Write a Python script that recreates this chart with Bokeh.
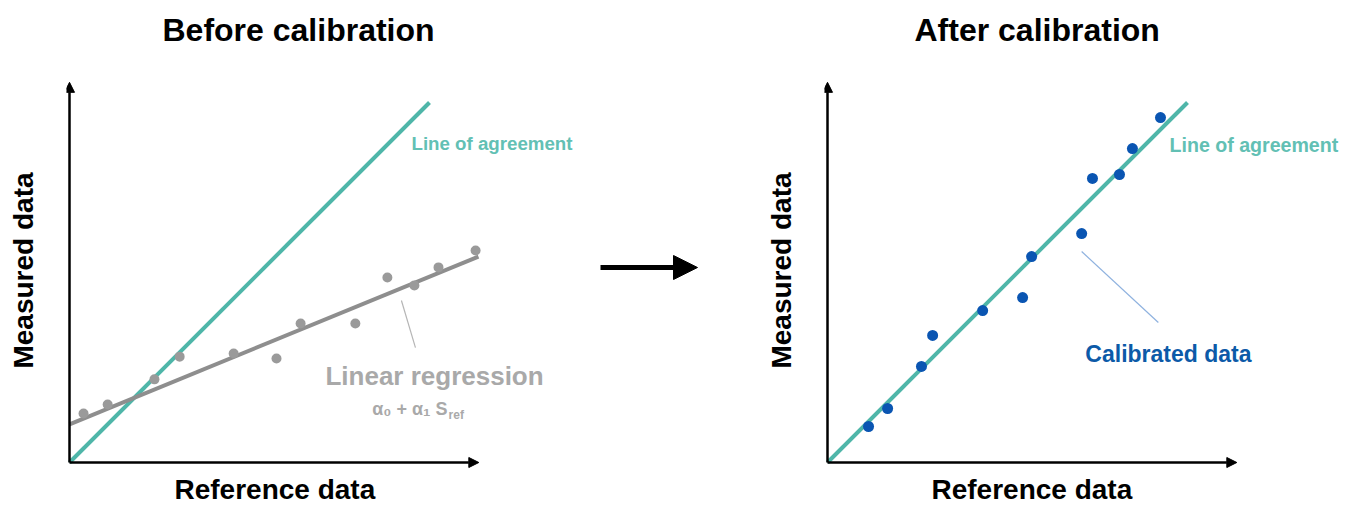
from bokeh.plotting import figure
from bokeh.layouts import row, column
from bokeh.models import Range1d, Arrow, NormalHead, Label, FixedTicker, Title
from bokeh.embed import file_html
from bokeh.resources import INLINE

# ---------------- data (arbitrary units, same scale on both axes) ----------------
ref_before = [0.39, 1.06, 2.36, 3.06, 4.56, 5.75, 6.42, 7.94, 8.83, 9.58, 10.25, 11.28]
meas_before = [1.36, 1.61, 2.31, 2.94, 3.03, 2.89, 3.86, 3.86, 5.14, 4.92, 5.42, 5.89]
ref_after = [1.14, 1.67, 2.61, 2.92, 4.31, 5.42, 5.67, 7.06, 7.36, 8.11, 8.47, 9.25]
meas_after = [1.00, 1.50, 2.67, 3.53, 4.22, 4.58, 5.72, 6.36, 7.89, 8.00, 8.72, 9.58]
alpha0 = 1.06          # regression intercept
alpha1 = 0.41          # regression slope
reg_x = [0.0, 11.36]   # extent of regression line
agree_x = [0.0, 10.0]  # extent of the line of agreement
axis_x_end = 11.37
axis_y_end = 10.56

# ---------------- style ----------------
TEAL = "#4fb6a9"
TEAL_TEXT = "#62c0b4"
GRAY_PT = "#9a9a9a"
GRAY_LINE = "#8e8e8e"
GRAY_TEXT = "#a9a9a9"
BLUE = "#0a55b2"
BLUE_TEXT = "#0c5aa8"
BLUE_PTR = "#8fb2df"
FONT = "Liberation Sans"
PX = 36.0       # pixels per data unit
TH = 60         # height of the title strip
H = 448         # height of the plot figures
MT = 11         # top border of plot figures
MB = 39         # bottom border (axis label)
PAD = 3         # origin offset from frame left
ORIGIN_FROM_TOP = 402  # origin y inside the plot figure


def title_strip(text, W, ML, MR, offset):
    t = figure(width=W, height=TH, output_backend="svg", toolbar_location=None,
               x_axis_type=None, y_axis_type=None,
               min_border_left=ML, min_border_right=MR, min_border_top=0, min_border_bottom=0)
    t.title = Title(text=text, align="left", offset=offset,
                    text_font=FONT, text_font_size="32px",
                    text_font_style="bold", text_color="black", standoff=18)
    t.grid.visible = False
    t.outline_line_color = None
    t.border_fill_color = "white"
    return t


def panel(W, ML, MR, xlabel_offset):
    frame_w = W - ML - MR
    frame_bottom = H - MB
    pad_b = frame_bottom - ORIGIN_FROM_TOP
    p = figure(width=W, height=H, output_backend="svg", toolbar_location=None,
               x_range=Range1d(-PAD / PX, (frame_w - PAD) / PX),
               y_range=Range1d(-pad_b / PX, (ORIGIN_FROM_TOP - MT) / PX),
               min_border_left=ML, min_border_right=MR,
               min_border_top=MT, min_border_bottom=MB)
    p.grid.visible = False
    p.outline_line_color = None
    p.background_fill_color = "white"
    p.border_fill_color = "white"
    for ax in (p.xaxis[0], p.yaxis[0]):
        ax.ticker = FixedTicker(ticks=[])
        ax.axis_line_color = None
        ax.major_tick_line_color = None
        ax.minor_tick_line_color = None
        ax.major_tick_out = 0
        ax.minor_tick_out = 0
        ax.major_label_standoff = 0
        ax.axis_label_text_font = FONT
        ax.axis_label_text_font_size = "28px"
        ax.axis_label_text_font_style = "bold"
        ax.axis_label_text_color = "black"
    p.yaxis.axis_label = "Measured data"
    p.yaxis.axis_label_standoff = 28
    # x-axis label, positioned under the drawn axis arrow
    p.add_layout(Title(text="Reference data", align="left", offset=xlabel_offset,
                       vertical_align="bottom", standoff=4,
                       text_font=FONT, text_font_size="28px",
                       text_font_style="bold", text_color="black"), "below")
    # axis arrows
    p.add_layout(Arrow(end=NormalHead(size=10, fill_color="black", line_color="black"),
                       x_start=0, y_start=0, x_end=axis_x_end, y_end=0,
                       line_width=2.5, line_color="black"))
    p.add_layout(Arrow(end=NormalHead(size=10, fill_color="black", line_color="black"),
                       x_start=0, y_start=0, x_end=0, y_end=axis_y_end,
                       line_width=2.5, line_color="black"))
    return p


def label(p, x, y, text, size, color, align="left"):
    p.add_layout(Label(x=x, y=y, text=text, text_font=FONT, text_font_size=size,
                       text_font_style="bold", text_color=color,
                       text_align=align, text_baseline="middle"))


# ---------------- left panel ----------------
left_title = title_strip("Before calibration", 588, 66, 8, 96)
left = panel(588, 66, 8, 108)
left.line(agree_x, agree_x, line_color=TEAL, line_width=4)
left.line(reg_x, [alpha0 + alpha1 * x for x in reg_x], line_color=GRAY_LINE, line_width=4)
left.scatter(ref_before, meas_before, size=10, fill_color=GRAY_PT, line_color=None)
left.line([9.22, 9.61], [4.50, 3.19], line_color="#b5b5b5", line_width=1.2)
label(left, 9.5, 8.85, "Line of agreement", "18.7px", TEAL_TEXT)
label(left, 10.14, 2.39, "Linear regression", "26px", GRAY_TEXT, "center")
label(left, 10.5, 1.48, "α₀ + α₁ S", "18px", GRAY_TEXT, "right")
label(left, 10.53, 1.31, "ref", "12px", GRAY_TEXT)

# ---------------- middle arrow ----------------
mid = figure(width=150, height=TH + H, output_backend="svg", toolbar_location=None,
             x_axis_type=None, y_axis_type=None,
             x_range=Range1d(0, 150), y_range=Range1d(0, TH + H),
             min_border_left=0, min_border_right=0, min_border_top=0, min_border_bottom=0)
mid.grid.visible = False
mid.outline_line_color = None
mid.add_layout(Arrow(end=NormalHead(size=24, fill_color="black", line_color="black"),
                     x_start=12, y_start=241, x_end=109, y_end=241,
                     line_width=5, line_color="black"))

# ---------------- right panel ----------------
right_title = title_strip("After calibration", 614, 86, 0, 90)
right = panel(614, 86, 0, 107)
right.line(agree_x, agree_x, line_color=TEAL, line_width=4)
right.scatter(ref_after, meas_after, size=11, fill_color=BLUE, line_color=None)
right.line([7.06, 9.19], [5.86, 3.89], line_color=BLUE_PTR, line_width=1.2)
label(right, 9.5, 8.81, "Line of agreement", "19.6px", TEAL_TEXT)
label(right, 9.47, 3.01, "Calibrated data", "23px", BLUE_TEXT, "center")

layout = row(column(left_title, left), mid, column(right_title, right))
open("out.html", "w").write(file_html(layout, INLINE))
